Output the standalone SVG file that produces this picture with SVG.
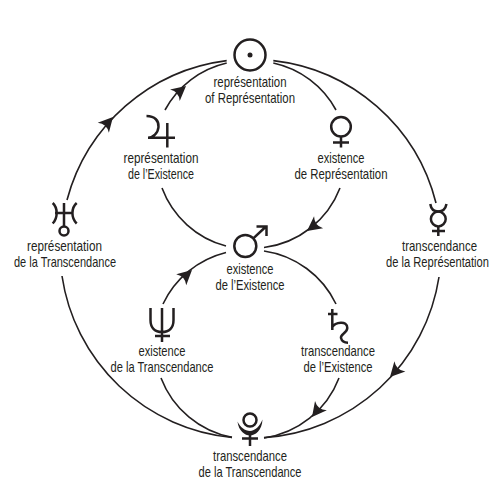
<svg xmlns="http://www.w3.org/2000/svg" width="500" height="500" viewBox="0 0 500 500">
<style>
text{font-family:"Liberation Sans Narrow","Liberation Sans",sans-serif;font-size:14.500px;fill:#231f20;text-anchor:middle}
.c path{fill:none;stroke:#231f20;stroke-width:1.6}
.s{fill:none;stroke:#231f20;stroke-width:2.500}
.a{fill:#231f20}
</style>
<defs><path id="ah" d="M0 0L-14.500-7.500Q-9 0-14.500 7.500Z"/></defs>
<rect width="500" height="500" fill="#fff"/>
<g id="connectors" class="c">
<path d="M67 200A190 190 0 0 1 226.700 60.600"/>
<path d="M273.300 60.600A190 190 0 0 1 436 203"/>
<path d="M439 277A190 190 0 0 1 264 437.600"/>
<path d="M62 276A190 190 0 0 0 232 437.400"/>
<path d="M165 110A94 94 0 0 1 226.700 63"/>
<path d="M273.300 63A94 94 0 0 1 336 110"/>
<path d="M340 188A94 94 0 0 1 264 247.500"/>
<path d="M162 188A94 94 0 0 0 226 246"/>
<path d="M163 304A95 95 0 0 1 226 252.500"/>
<path d="M264 251A95 95 0 0 1 336 304"/>
<path d="M339 378A95 95 0 0 1 264 438"/>
<path d="M161 378A95 95 0 0 0 232 437.400"/>
<g class="a">
<use href="#ah" transform="translate(186 86) rotate(-40)"/>
<use href="#ah" transform="translate(113 117) rotate(-48)"/>
<use href="#ah" transform="translate(307 231) rotate(143)"/>
<use href="#ah" transform="translate(192 270) rotate(-42)"/>
<use href="#ah" transform="translate(312 417) rotate(128)"/>
<use href="#ah" transform="translate(390 377) rotate(133)"/>
</g>
</g>
<g id="sun"><circle class="s" cx="250" cy="55" r="15.500"/><circle class="a" cx="250" cy="55" r="2.500"/>
<text x="250" y="87" textLength="73" lengthAdjust="spacingAndGlyphs">représentation</text><text x="250" y="103" textLength="90" lengthAdjust="spacingAndGlyphs">of Représentation</text></g>
<g id="jupiter"><path class="s" d="M146.500 116C155 116 159 121 158.500 127C158 133 153 137.700 148 137.700H175M167.300 123V147.500"/>
<text x="161" y="163" textLength="75" lengthAdjust="spacingAndGlyphs">représentation</text><text x="161" y="179" textLength="66" lengthAdjust="spacingAndGlyphs">de l’Existence</text></g>
<g id="venus"><circle class="s" cx="341" cy="126.700" r="9.800"/><path class="s" d="M341 136.500V147.500M333 142.500H349"/>
<text x="341" y="163" textLength="47" lengthAdjust="spacingAndGlyphs">existence</text><text x="341" y="179" textLength="93" lengthAdjust="spacingAndGlyphs">de Représentation</text></g>
<g id="mars"><circle class="s" cx="245.300" cy="246" r="11"/><path class="s" d="M253.300 238.300L266 226.500M256.500 226.500H266.500V236"/>
<text x="250" y="274" textLength="47" lengthAdjust="spacingAndGlyphs">existence</text><text x="250" y="290" textLength="69" lengthAdjust="spacingAndGlyphs">de l’Existence</text></g>
<g id="neptune"><path class="s" d="M150.500 308V320C150.500 328 155 332 162 332C169 332 173.500 328 173.500 320V308M162 308V342M155 336H170"/>
<text x="162" y="356" textLength="47" lengthAdjust="spacingAndGlyphs">existence</text><text x="162" y="372" textLength="103" lengthAdjust="spacingAndGlyphs">de la Transcendance</text></g>
<g id="saturn"><path class="s" d="M332.300 309V330M328 314H337.500M332.300 327C335 322.500 347.300 320 347.300 328C347.300 333 340 334 341 338C342 342 346 342.700 348 342.700"/>
<text x="338" y="356" textLength="74" lengthAdjust="spacingAndGlyphs">transcendance</text><text x="338" y="372" textLength="69" lengthAdjust="spacingAndGlyphs">de l’Existence</text></g>
<g id="pluto"><circle class="s" cx="250" cy="420" r="6.500"/><path class="a" d="M237.500 421.500C238.500 431 245 435.500 250 435.500C255 435.500 262 431 262.500 419.500C260 426 255 431 250 431C245 431 240 427 237.500 421.500Z"/><path class="s" d="M250 433V446M242 438.500H258"/>
<text x="250" y="461" textLength="74" lengthAdjust="spacingAndGlyphs">transcendance</text><text x="250" y="477" textLength="103" lengthAdjust="spacingAndGlyphs">de la Transcendance</text></g>
<g id="uranus"><circle class="s" cx="64" cy="231" r="4.500"/><path class="s" d="M64 203V226.500M55 213H73M52.700 203C58 208 58 218 52.700 223.500M76.700 203C71 208 71 218 76.700 223.500"/>
<text x="64.500" y="251" textLength="75" lengthAdjust="spacingAndGlyphs">représentation</text><text x="65" y="267" textLength="102" lengthAdjust="spacingAndGlyphs">de la Transcendance</text></g>
<g id="mercury"><circle class="s" cx="438.300" cy="219" r="7.400"/><path class="s" d="M430.300 204C431 209 434 211.500 438.300 211.500C442.500 211.500 445.500 209 446.500 204M438.300 226.500V236M432 231H445"/>
<text x="439.500" y="251" textLength="75" lengthAdjust="spacingAndGlyphs">transcendance</text><text transform="translate(437.500 267) scale(.77 1)">de la Représentation</text></g>
</svg>
